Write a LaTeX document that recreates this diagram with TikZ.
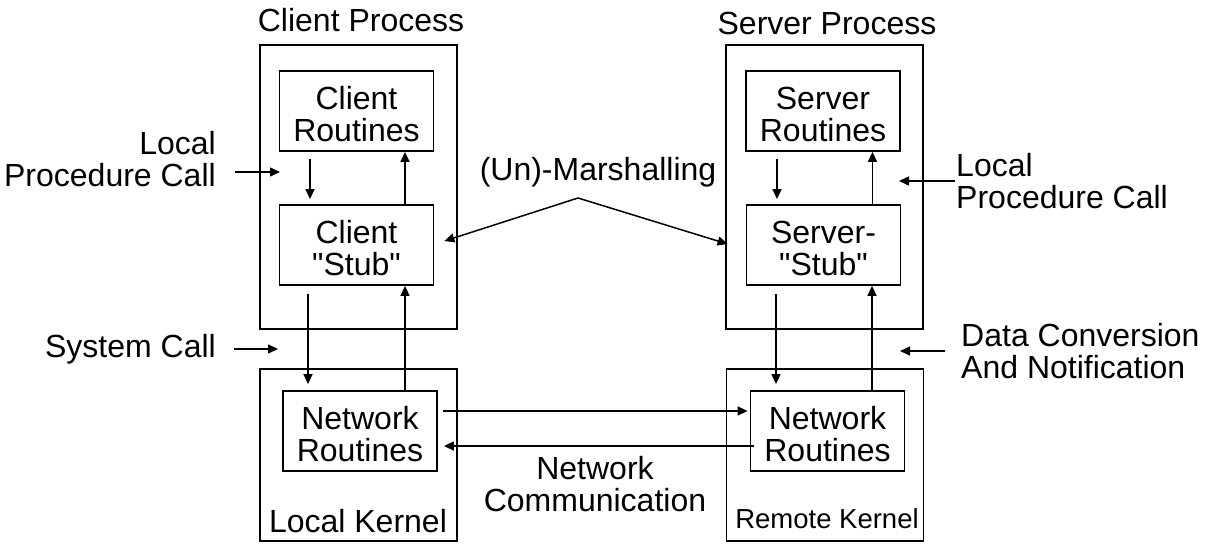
\documentclass[tikz,border=0pt]{standalone}
\usepackage{fontspec}
\setmainfont{Liberation Sans}[Ligatures=TeXOff]
\usetikzlibrary{arrows.meta}

\begin{document}
\begin{tikzpicture}[x=1pt,y=-1pt,
  box/.style={draw=black,line width=1.8pt,inner sep=0pt},
  inbox/.style={box,minimum width=154pt,minimum height=80pt},
  outbox/.style={box,minimum width=197pt},
  txt/.style={inner sep=0pt,font=\fontsize{32}{32}\selectfont},
  boxtxt/.style={label={[txt,align=center,yshift=-3.5pt]center:#1}},
  arr/.style={line width=1.5pt,-{Triangle[length=10pt,width=9pt]}}]
\useasboundingbox (0,0) rectangle (1211,554);
% client side
\node [outbox,minimum height=284pt] (cproc) at (358.5,187) {};
\node [outbox,minimum height=172pt] (lkernel) at (358.5,455) {};
\node [inbox,boxtxt={Client\\Routines}] (croutines) at (356.5,111) {};
\node [inbox,boxtxt={Client\\"Stub"}] (cstub) at (356.5,245) {};
\node [inbox,boxtxt={Network\\Routines}] (cnet) at (360,431) {};
\node [txt] (cproct) at (361,20) {Client Process};
\node [txt] (lkt) at (358,521) {Local Kernel};
% server side
\node [outbox,minimum height=284pt] (sproc) at (824.5,187) {};
\node [outbox,minimum height=172pt] (rkernel) at (825,455) {};
\node [inbox,boxtxt={Server\\Routines}] (sroutines) at (823,111) {};
\node [inbox,boxtxt={Server-\\"Stub"}] (sstub) at (823.5,245) {};
\node [inbox,boxtxt={Network\\Routines}] (snet) at (827.5,431) {};
\node [txt] (sproct) at (827,23) {Server Process};
\node [txt,font=\fontsize{27.5}{30}\selectfont] (rkt) at (827,519) {Remote Kernel};
% routines <-> stubs
\draw [arr,shorten <=7pt,shorten >=5pt] ([xshift=-46.5pt]croutines.south) -- ([xshift=-46.5pt]croutines.south |- cstub.north);
\draw [arr] ([xshift=48.5pt]cstub.north) -- ([xshift=48.5pt]cstub.north |- croutines.south);
\draw [arr,shorten <=7pt,shorten >=5pt] ([xshift=-46pt]sroutines.south) -- ([xshift=-46pt]sroutines.south |- sstub.north);
\draw [arr] ([xshift=49pt]sstub.north) -- ([xshift=49pt]sstub.north |- sroutines.south);
% stubs <-> network routines
\draw [arr,shorten <=8pt,shorten >=6pt] ([xshift=-48.5pt]cstub.south) -- ([xshift=-48.5pt]cstub.south |- cnet.north);
\draw [arr] ([xshift=48.5pt]cstub.south |- cnet.north) -- ([xshift=48.5pt]cstub.south);
\draw [arr,shorten <=8pt,shorten >=6pt] ([xshift=-47.5pt]sstub.south) -- ([xshift=-47.5pt]sstub.south |- snet.north);
\draw [arr] ([xshift=48.5pt]sstub.south |- snet.north) -- ([xshift=48.5pt]sstub.south);
% network communication
\draw [arr,shorten <=5pt,shorten >=2pt] ([yshift=20pt]cnet.east) -- ([yshift=20pt]cnet.east -| snet.west);
\draw [arr,shorten <=-4pt,shorten >=6pt] ([yshift=-15pt]snet.west) -- ([yshift=-15pt]snet.west -| cnet.east);
\node [txt,align=center] (netcomm) at (595,484) {Network\\Communication};
% marshalling
\node [txt] (marsh) at (598,172) {(Un)-Marshalling};
\coordinate (mfork) at (578,198);
\draw [arr] (mfork) -- ([xshift=10pt,yshift=4pt]cstub.east);
\draw [arr] (mfork) -- ([xshift=-18pt,yshift=1pt]sstub.west);
% side labels
\node [txt,align=right,anchor=east] (lpcl) at (216,159) {Local\\Procedure Call};
\coordinate (lpclend) at (280,172);
\draw [arr] ([xshift=19pt]lpcl.east |- lpclend) -- (lpclend);
\node [txt,anchor=east] (sysc) at (216,349) {System Call};
\draw [arr] ([xshift=18pt]sysc.east) -- ([xshift=62pt]sysc.east);
\node [txt,align=left,anchor=west] (lpcr) at (956,181) {Local\\Procedure Call};
\draw [arr] ([xshift=-1pt]lpcr.west) -- ([xshift=-57pt]lpcr.west);
\node [txt,align=left,anchor=west] (dconv) at (961,351) {Data Conversion\\And Notification};
\draw [arr] ([xshift=-16pt]dconv.west) -- ([xshift=-61pt]dconv.west);
\end{tikzpicture}
\end{document}
